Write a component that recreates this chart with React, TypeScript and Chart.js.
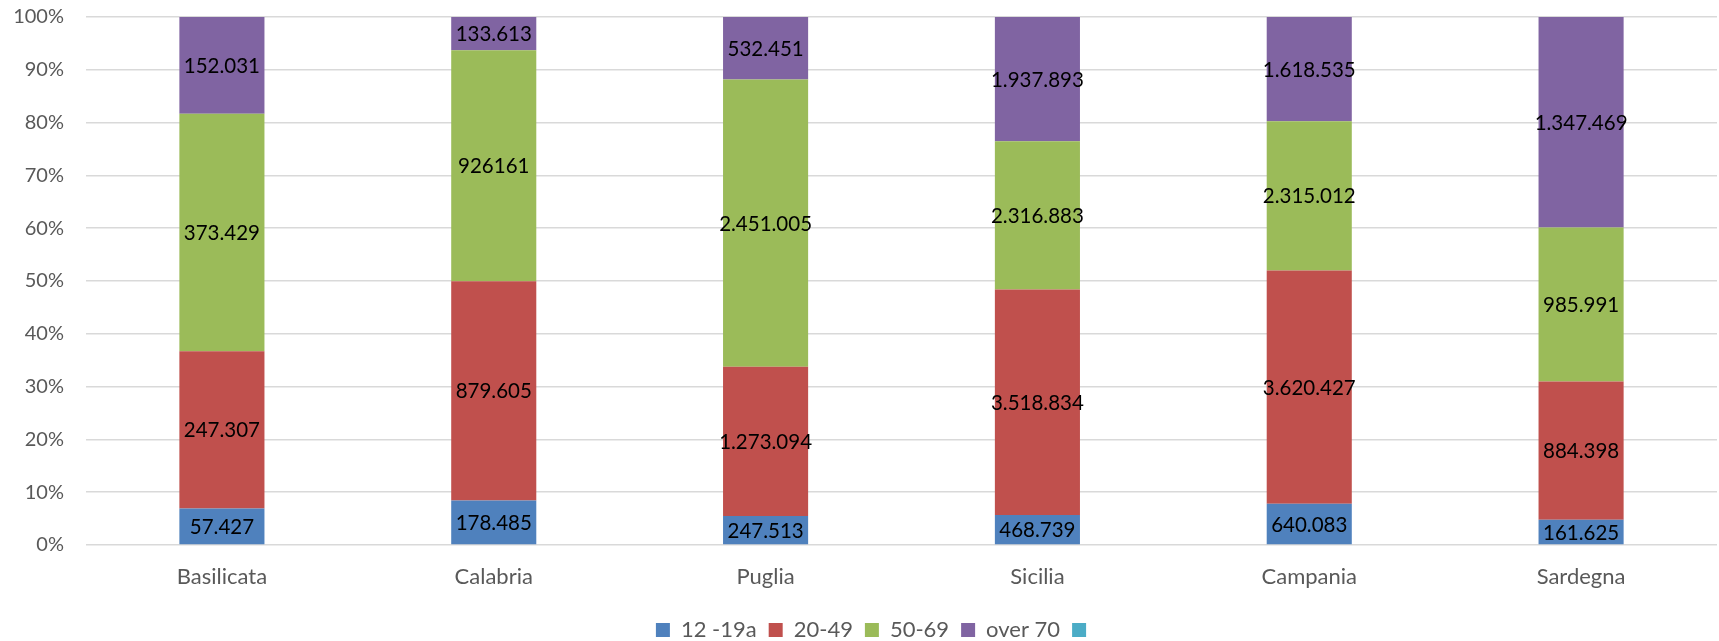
import React, { useEffect, useRef } from "react";
import { Chart, registerables } from "chart.js";

Chart.register(...registerables);

const categories = ["Basilicata", "Calabria", "Puglia", "Sicilia", "Campania", "Sardegna"];
const seriesNames = ["12 -19a", "20-49", "50-69", "over 70", ""];
const colors = ["#4F81BD", "#C0504D", "#9BBB59", "#8064A2", "#4BACC6"];

const age12_19 = [57427, 178485, 247513, 468739, 640083, 161625];
const age20_49 = [247307, 879605, 1273094, 3518834, 3620427, 884398];
const age50_69 = [373429, 926161, 2451005, 2316883, 2315012, 985991];
const over70 = [152031, 133613, 532451, 1937893, 1618535, 1347469];
const emptySeries: number[] = [];

// label text exactly as shown (one value shown without thousands separator)
const labels12_19 = ["57.427", "178.485", "247.513", "468.739", "640.083", "161.625"];
const labels20_49 = ["247.307", "879.605", "1.273.094", "3.518.834", "3.620.427", "884.398"];
const labels50_69 = ["373.429", "926161", "2.451.005", "2.316.883", "2.315.012", "985.991"];
const labelsOver70 = ["152.031", "133.613", "532.451", "1.937.893", "1.618.535", "1.347.469"];

const yTicks = [0, 10, 20, 30, 40, 50, 60, 70, 80, 90, 100];

const FONT = "Lato, 'DejaVu Sans', sans-serif";

export default function App() {
  const ref = useRef<HTMLCanvasElement>(null);
  useEffect(() => {
    document.body.style.margin = "0";
    const raw = [age12_19, age20_49, age50_69, over70, emptySeries];
    const labelSets = [labels12_19, labels20_49, labels50_69, labelsOver70, []];
    const totals = categories.map((_, i) =>
      age12_19[i] + age20_49[i] + age50_69[i] + over70[i]
    );
    const datasets = raw.map((arr, s) => ({
      label: seriesNames[s],
      data: categories.map((_, i) => (arr[i] !== undefined ? (arr[i] / totals[i]) * 100 : 0)),
      backgroundColor: colors[s],
      borderWidth: 0,
      barPercentage: 0.313,
      categoryPercentage: 1,
    }));

    const labelPlugin = {
      id: "valueLabels",
      afterLayout(chart: any) {
        const lg = chart.legend;
        if (lg) {
          lg.left += 18;
          lg.right += 18;
        }
      },
      afterDatasetsDraw(chart: any) {
        const ctx = chart.ctx;
        ctx.save();
        ctx.font = `20.5px ${FONT}`;
        ctx.fillStyle = "#000000";
        ctx.textAlign = "center";
        ctx.textBaseline = "middle";
        chart.data.datasets.forEach((ds: any, s: number) => {
          const meta = chart.getDatasetMeta(s);
          const texts = labelSets[s];
          meta.data.forEach((bar: any, i: number) => {
            const t = texts[i];
            if (!t) return;
            const yc = (bar.y + bar.base) / 2;
            ctx.fillText(t, bar.x, yc + 1);
          });
        });
        ctx.restore();
      },
    };

    const chart = new Chart(ref.current!, {
      type: "bar",
      data: { labels: categories, datasets },
      options: {
        responsive: false,
        animation: false,
        layout: { padding: { top: 17, right: 2, left: 0, bottom: -10 } },
        plugins: {
          tooltip: { enabled: false },
          legend: {
            position: "bottom",
            labels: {
              boxWidth: 14,
              boxHeight: 14,
              padding: 12,
              color: "#595959",
              font: { family: FONT, size: 22 },
            },
          },
        },
        scales: {
          x: {
            stacked: true,
            grid: { display: false, drawTicks: false },
            border: { display: false },
            ticks: { color: "#595959", font: { family: FONT, size: 22 }, padding: 19 },
            afterFit(scale: any) {
              scale.height = 62;
            },
          },
          y: {
            stacked: true,
            min: 0,
            max: 100,
            afterBuildTicks(scale: any) {
              scale.ticks = yTicks.map((v) => ({ value: v }));
            },
            grid: { color: "#D9D9D9", lineWidth: 1.5, drawTicks: false },
            border: { display: false },
            ticks: {
              color: "#595959",
              font: { family: FONT, size: 20 },
              padding: 22,
              callback: (v: any) => `${v}%`,
            },
            afterFit(scale: any) {
              scale.width = 86;
              scale.paddingTop = 0;
              scale.paddingBottom = 0;
            },
          },
        },
      },
      plugins: [labelPlugin],
    });
    return () => chart.destroy();
  }, []);
  return <canvas ref={ref} width={1719} height={641} />;
}
